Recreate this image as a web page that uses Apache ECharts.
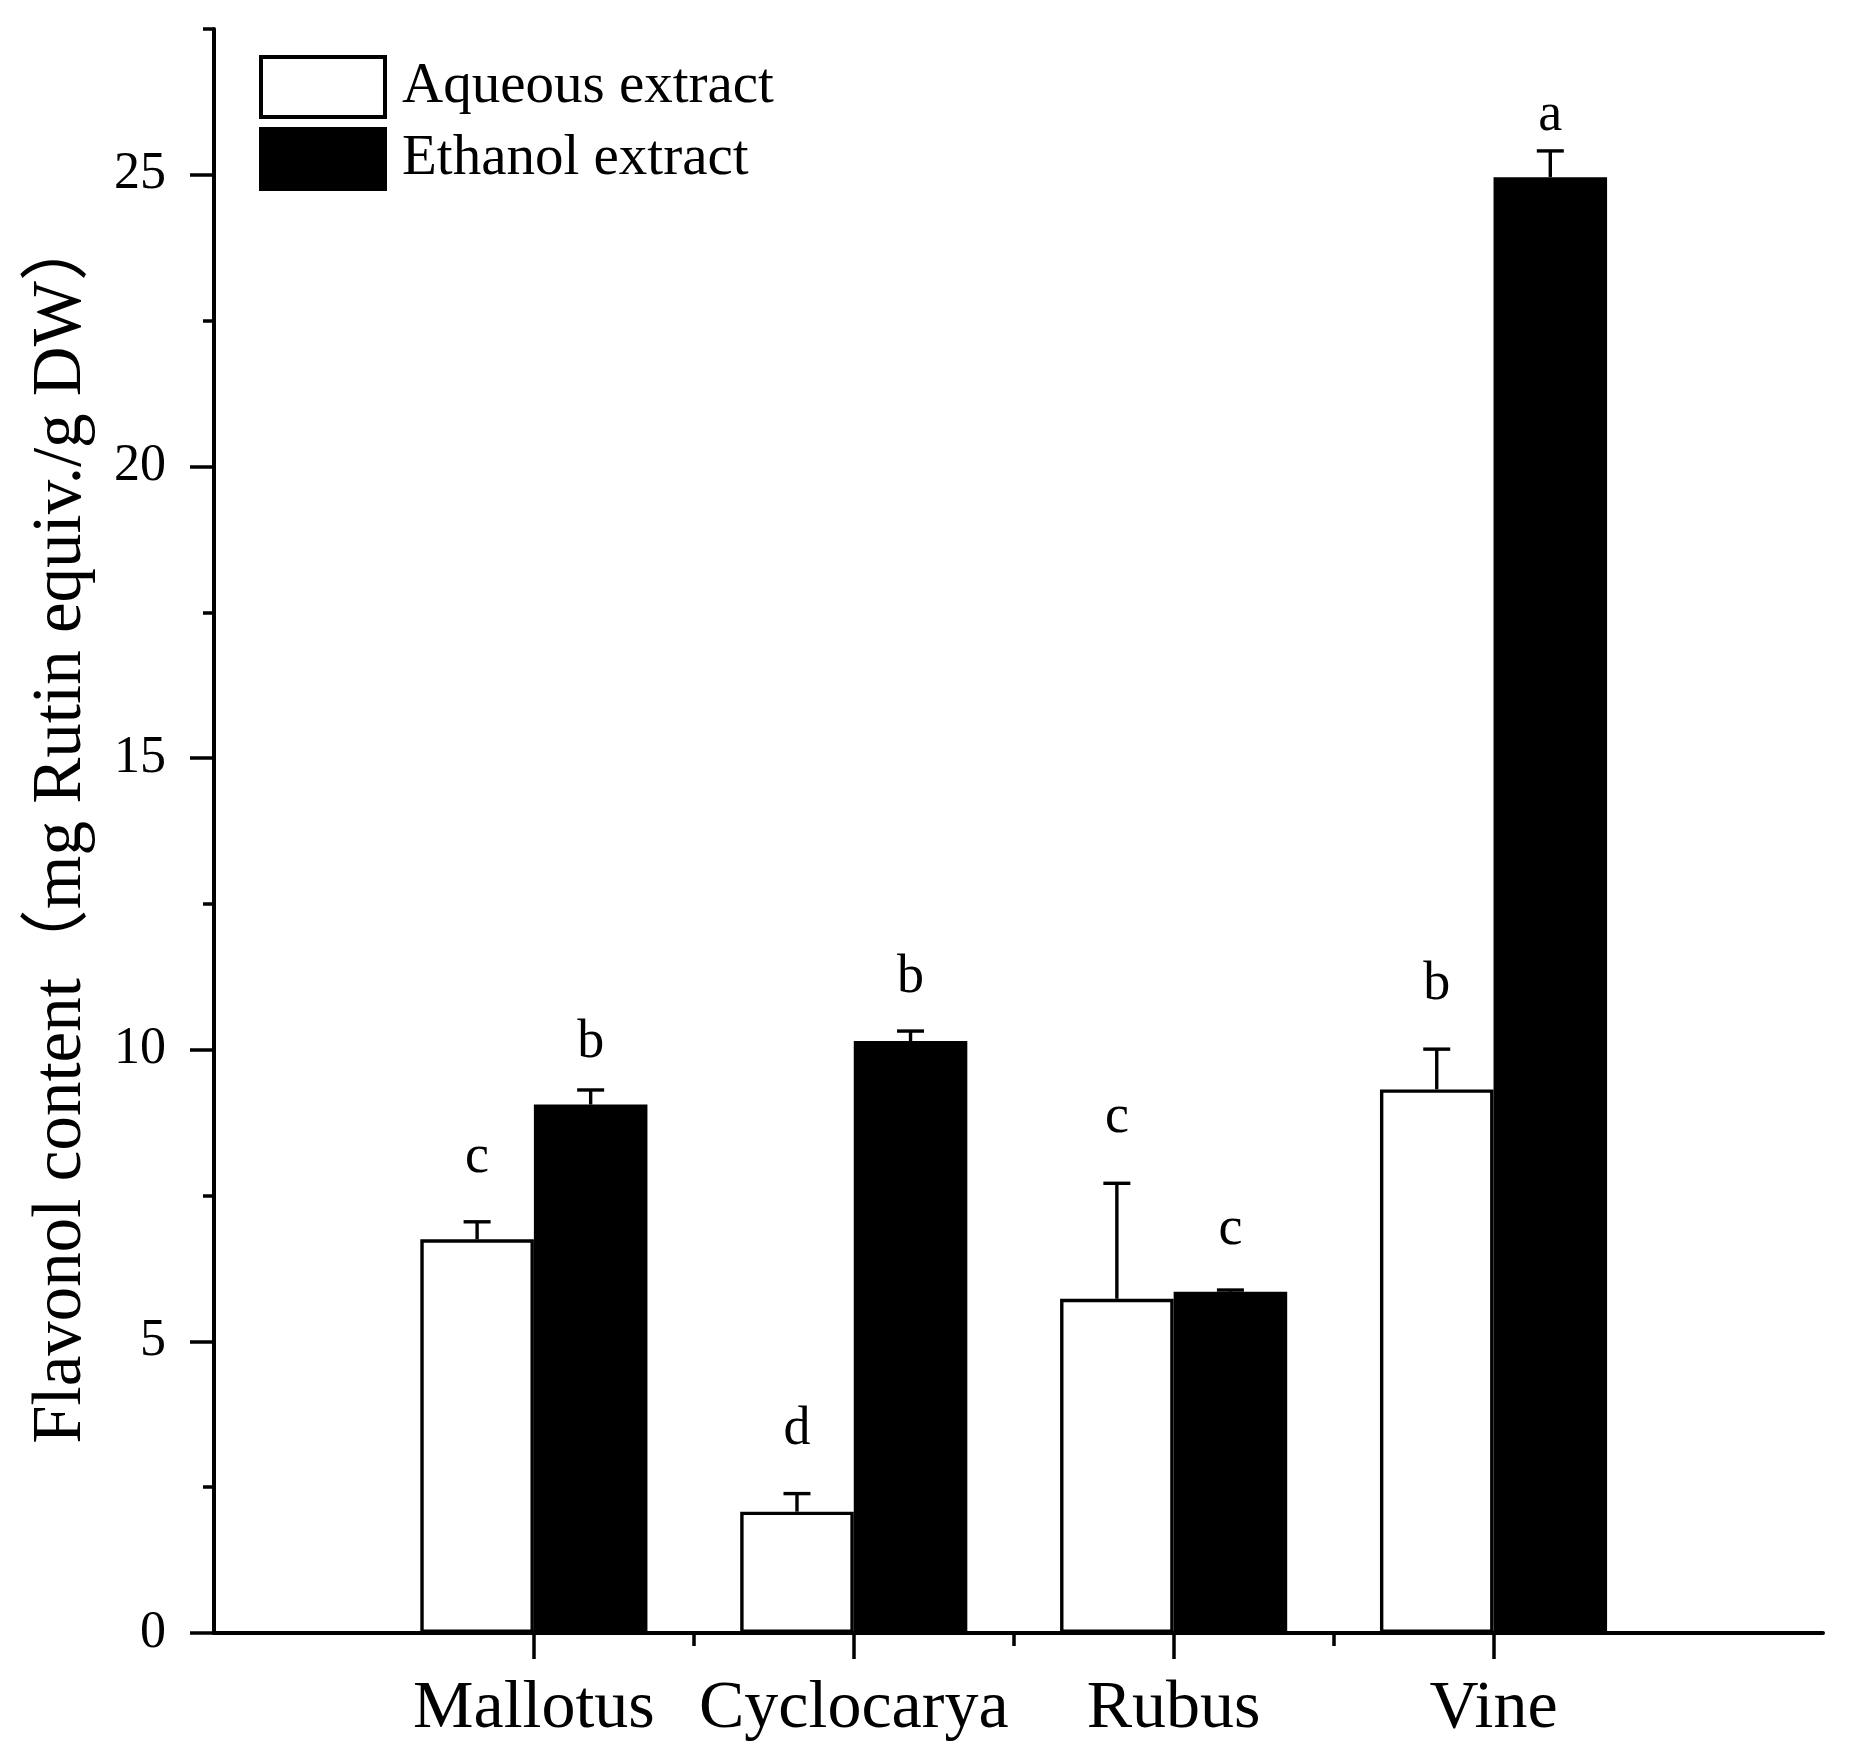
<!DOCTYPE html>
<html>
<head>
<meta charset="utf-8">
<script src="https://cdn.jsdelivr.net/npm/echarts@6/dist/echarts.min.js"></script>
<style>
html,body{margin:0;padding:0;background:#fff;}
#chart{width:1850px;height:1762px;}
</style>
</head>
<body>
<div id="chart"></div>
<script>
// ---- data ----
const categories = ['Mallotus', 'Cyclocarya', 'Rubus', 'Vine'];
const aqueous = [6.75, 2.08, 5.73, 9.32];
const aqueousErr = [0.30, 0.31, 1.98, 0.69];
const ethanol = [9.06, 10.15, 5.85, 24.96];
const ethanolErr = [0.25, 0.17, 0.03, 0.45];
const aqueousLetters = ['c', 'd', 'c', 'b'];
const ethanolLetters = ['b', 'b', 'c', 'a'];
const aqueousLetterY = [7.86, 3.2, 8.54, 10.82];
const ethanolLetterY = [9.83, 10.94, 6.62, 25.72];
const yMajorTicks = [0, 5, 10, 15, 20, 25];
const yMinorTicks = [2.5, 7.5, 12.5, 17.5, 22.5, 27.5];
const xMajorTicks = [1, 2, 3, 4];
const xMinorTicks = [1.5, 2.5, 3.5];
const yTitle = 'Flavonol content\uFF08mg Rutin equiv./g DW\uFF09';
const seriesNames = ['Aqueous extract', 'Ethanol extract'];

// ---- style ----
const FONT = '"Liberation Serif", "Times New Roman", serif';
const BAR_FRAC = 0.355; // bar width as fraction of the 1-unit category spacing
const X_MAX = 5.03, Y_MAX = 27.5;

const xPos = categories.map((c, i) => i + 1);

function barData(vals) { return vals.map((v, i) => [xPos[i], v]); }
function errData(vals, errs, ly) { return vals.map((v, i) => [xPos[i], v, errs[i], ly[i]]); }

function makeErrRender(side, letters) {
  return function (params, api) {
    const x = api.value(0), v = api.value(1), e = api.value(2), ly = api.value(3);
    const xc = x + side * BAR_FRAC / 2;
    const p0 = api.coord([xc, v]);
    const p1 = api.coord([xc, v + e]);
    const pl = api.coord([xc, ly]);
    const cap = 13.5;
    const ls = { stroke: '#000', lineWidth: 3.4 };
    return {
      type: 'group',
      children: [
        { type: 'line', shape: { x1: p0[0], y1: p0[1], x2: p1[0], y2: p1[1] }, style: ls },
        { type: 'line', shape: { x1: p1[0] - cap, y1: p1[1], x2: p1[0] + cap, y2: p1[1] }, style: ls },
        { type: 'text', x: pl[0], y: pl[1] - 17,
          style: { text: letters[params.dataIndex], font: '54px ' + FONT, fill: '#000',
                   align: 'center', verticalAlign: 'middle' } }
      ]
    };
  };
}

const chart = echarts.init(document.getElementById('chart'), null, { renderer: 'canvas' });

const axisLineStyle = { color: '#000', width: 4 };

chart.setOption({
  backgroundColor: '#fff',
  animation: false,
  grid: { left: 214, right: 27, top: 29, bottom: 129, outerBoundsMode: 'none', containLabel: false },
  legend: {
    orient: 'vertical', left: 259, top: 55, padding: 0,
    itemWidth: 124, itemHeight: 60, itemGap: 8, selectedMode: false,
    icon: 'rect',
    textStyle: { fontFamily: FONT, fontSize: 57, color: '#000', padding: [0, 0, 0, 12] },
    data: [
      { name: seriesNames[0], icon: 'rect', itemStyle: { color: '#fff', borderColor: '#000', borderWidth: 4 } },
      { name: seriesNames[1], icon: 'rect', itemStyle: { color: '#000', borderColor: '#000', borderWidth: 4 } }
    ]
  },
  xAxis: [
    {
      type: 'value', min: 0, max: X_MAX, position: 'bottom',
      splitLine: { show: false },
      axisLine: { show: true, onZero: false, lineStyle: axisLineStyle },
      axisTick: { show: true, inside: false, length: 26, customValues: xMajorTicks,
                  lineStyle: { color: '#000', width: 3.5 } },
      axisLabel: { show: true, customValues: xMajorTicks, margin: 42,
                   fontFamily: FONT, fontSize: 68, color: '#000',
                   formatter: v => categories[Math.round(v) - 1] || '' }
    },
    {
      type: 'value', min: 0, max: X_MAX, position: 'bottom',
      splitLine: { show: false },
      axisLine: { show: false, onZero: false },
      axisTick: { show: true, inside: false, length: 13, customValues: xMinorTicks,
                  lineStyle: { color: '#000', width: 3.5 } },
      axisLabel: { show: false }
    }
  ],
  yAxis: [
    {
      type: 'value', min: 0, max: Y_MAX, position: 'left',
      splitLine: { show: false },
      axisLine: { show: true, onZero: false, lineStyle: axisLineStyle },
      axisTick: { show: true, inside: false, length: 24, customValues: yMajorTicks,
                  lineStyle: { color: '#000', width: 3.5 } },
      axisLabel: { show: true, customValues: yMajorTicks, margin: 48,
                   fontFamily: FONT, fontSize: 52, color: '#000' }
    },
    {
      type: 'value', min: 0, max: Y_MAX, position: 'left',
      splitLine: { show: false },
      axisLine: { show: false, onZero: false },
      axisTick: { show: true, inside: false, length: 11, customValues: yMinorTicks,
                  lineStyle: { color: '#000', width: 3.5 } },
      axisLabel: { show: false }
    }
  ],
  graphic: [
    {
      type: 'text', x: 62, y: 828, rotation: Math.PI / 2,
      style: { text: yTitle, font: '69px ' + FONT + ', "Noto Sans CJK SC"', fill: '#000',
               align: 'center', verticalAlign: 'middle' }
    }
  ],
  series: [
    {
      name: seriesNames[0], type: 'bar', xAxisIndex: 0, yAxisIndex: 0,
      barWidth: (BAR_FRAC * 100) + '%', barGap: '0%',
      data: barData(aqueous),
      itemStyle: { color: '#fff', borderColor: '#000', borderWidth: 3.4 },
      z: 2
    },
    {
      name: seriesNames[1], type: 'bar', xAxisIndex: 0, yAxisIndex: 0,
      barWidth: (BAR_FRAC * 100) + '%', barGap: '0%',
      data: barData(ethanol),
      itemStyle: { color: '#000', borderColor: '#000', borderWidth: 0 },
      z: 2
    },
    {
      name: 'aq-err', type: 'custom', xAxisIndex: 0, yAxisIndex: 0, z: 3,
      renderItem: makeErrRender(-1, aqueousLetters),
      data: errData(aqueous, aqueousErr, aqueousLetterY)
    },
    {
      name: 'eth-err', type: 'custom', xAxisIndex: 0, yAxisIndex: 0, z: 3,
      renderItem: makeErrRender(1, ethanolLetters),
      data: errData(ethanol, ethanolErr, ethanolLetterY)
    }
  ]
});
</script>
</body>
</html>
